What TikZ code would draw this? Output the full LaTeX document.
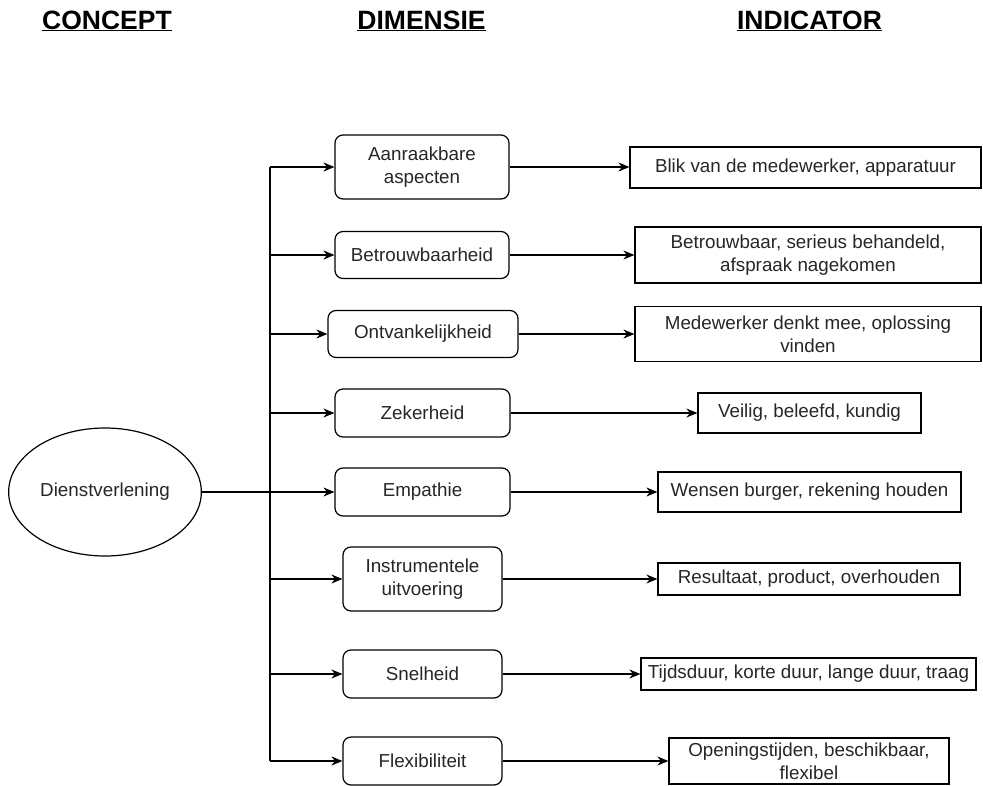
\documentclass[tikz,border=0pt]{standalone}
\usepackage{fontspec}
\setmainfont{Liberation Sans}
\usepackage{tikz}
\usetikzlibrary{arrows,arrows.meta,positioning,shapes.geometric}

\begin{document}
\begin{tikzpicture}[x=1pt,y=-1pt]

\tikzset{kop/.style={font=\fontsize{26.5}{28}\selectfont\bfseries, anchor=base},
         dimensie/.style={draw, line width=1.2pt, rounded corners=8pt, align=center, inner sep=2pt,
                          text=black!85, font=\fontsize{18.8}{23}\selectfont},
         indicator/.style={draw, line width=1.2pt, align=center, inner sep=2pt,
                           text=black!85, font=\fontsize{18.8}{23}\selectfont},
         pijl/.style={line width=1.2pt, -{Stealth[length=11pt,width=9pt]}}}

\useasboundingbox (0,0) rectangle (983,785);

\node[kop] (concept) at (107,29) {\underline{CONCEPT}};
\node[kop] (dimensie) at (421.5,29) {\underline{DIMENSIE}};
\node[kop] (indicator) at (809.5,29) {\underline{INDICATOR}};

\node[draw, ellipse, line width=1.2pt, minimum width=190pt, minimum height=128pt,
      text=black!85, font=\fontsize{18.8}{23}\selectfont] (dienst) at (105,492) {Dienstverlening};

\node[dimensie, minimum width=174pt, minimum height=64pt] (aanraak) at (422,167) {Aanraakbare\\aspecten};
\node[dimensie, minimum width=174pt, minimum height=47pt] (betrouw) at (422,255) {Betrouwbaarheid};
\node[dimensie, minimum width=190pt, minimum height=47pt] (ontvank) at (423,334) {Ontvankelijkheid};
\node[dimensie, minimum width=175pt, minimum height=48pt] (zeker) at (422.5,413) {Zekerheid};
\node[dimensie, minimum width=175pt, minimum height=48pt] (empathie) at (422.5,492) {Empathie};
\node[dimensie, minimum width=159pt, minimum height=64pt] (instrument) at (422.5,579) {Instrumentele\\uitvoering};
\node[dimensie, minimum width=159pt, minimum height=48pt] (snel) at (422.5,674) {Snelheid};
\node[dimensie, minimum width=159pt, minimum height=48pt] (flex) at (422.5,761) {Flexibiliteit};

\node[indicator, minimum width=351pt, minimum height=41pt] (blik) at (805.5,167.5) {Blik van de medewerker, apparatuur};
\node[indicator, minimum width=346pt, minimum height=56pt] (serieus) at (808,255) {Betrouwbaar, serieus behandeld,\\afspraak nagekomen};
\node[indicator, minimum width=346pt, minimum height=55pt] (denkt) at (808,334) {Medewerker denkt mee, oplossing\\vinden};
\node[indicator, minimum width=223pt, minimum height=40pt] (veilig) at (809.5,413) {Veilig, beleefd, kundig};
\node[indicator, minimum width=303pt, minimum height=40pt] (wensen) at (809.5,492) {Wensen burger, rekening houden};
\node[indicator, minimum width=302pt, minimum height=32pt] (resultaat) at (809,579) {Resultaat, product, overhouden};
\node[indicator, minimum width=335pt, minimum height=32pt, inner xsep=1pt] (tijd) at (808.5,674) {Tijdsduur, korte duur, lange duur, traag};
\node[indicator, minimum width=280pt, minimum height=46pt] (opening) at (809,761) {Openingstijden, beschikbaar,\\flexibel};

% verdeellijn
\coordinate (b1) at (270,167);
\coordinate (b2) at (270,255);
\coordinate (b3) at (270,334);
\coordinate (b4) at (270,413);
\coordinate (b6) at (270,579);
\coordinate (b7) at (270,674);
\coordinate (b8) at (270,761);
\draw[line width=1.2pt] (b1) -- (b8);

\draw[pijl] (b1) -- (aanraak);
\draw[pijl] (b2) -- (betrouw);
\draw[pijl] (b3) -- (ontvank);
\draw[pijl] (b4) -- (zeker);
\draw[pijl] (dienst) -- (empathie);
\draw[pijl] (b6) -- (instrument);
\draw[pijl] (b7) -- (snel);
\draw[pijl] (b8) -- (flex);

\foreach \d/\i in {aanraak/blik, betrouw/serieus, ontvank/denkt, zeker/veilig,
                   empathie/wensen, instrument/resultaat, snel/tijd, flex/opening}
  \draw[pijl] (\d.east) -- (\d.east -| \i.west);

\end{tikzpicture}
\end{document}
